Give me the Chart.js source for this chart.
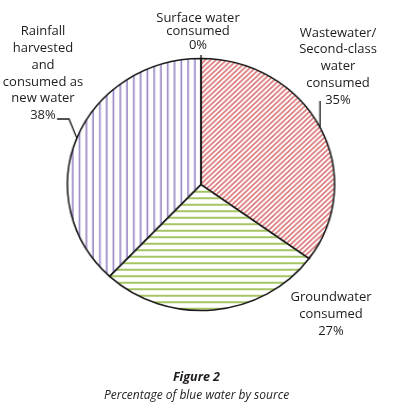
<!DOCTYPE html>
<html>
<head>
<meta charset="utf-8">
<script src="https://cdn.jsdelivr.net/npm/chart.js@4.4.0/dist/chart.umd.min.js"></script>
<style>
  html, body { margin: 0; padding: 0; background: #fff; }
  #page { position: relative; width: 393px; height: 402px; overflow: hidden; font-family: "Open Sans", sans-serif; color: #1f1b1c; }
  #pie { position: absolute; left: 0; top: 0; transform: scaleX(1.06); transform-origin: 201px 0; }
  .lbl { position: absolute; text-align: center; font-size: 13px; white-space: nowrap; transform: translateX(-50%); }
  .cap { position: absolute; left: 0; width: 393px; text-align: center; font-style: italic; white-space: nowrap; }
</style>
</head>
<body>
<div id="page">
  <canvas id="pie" width="393" height="402"></canvas>
</div>
<script>
// data
const sources = [
  "Surface water consumed",
  "Wastewater/Second-class water consumed",
  "Groundwater consumed",
  "Rainfall harvested and consumed as new water"
];
const labelLines = [
  ["Surface water", "consumed"],
  ["Wastewater/", "Second-class", "water", "consumed"],
  ["Groundwater", "consumed"],
  ["Rainfall", "harvested", "and", "consumed as", "new water"]
];
const shares = [0, 35, 27, 38];
const figureTitle = "Figure 2";
const figureCaption = "Percentage of blue water by source";

// layout (page px)
const labelBoxes = [
  { x: 198, top: 10.5, lh: 13.5 },
  { x: 338, top: 23.6, lh: 16.75 },
  { x: 331, top: 288.3, lh: 16.65 },
  { x: 43, top: 22.4, lh: 16.7 }
];
const leaderPaths = [
  [[null, 55]],
  [[null, 101]],
  [],
  [[69, 119], [57, 119]]
];
const stretch = 1.06, originX = 201;
const toCanvasX = (px) => originX + (px - originX) / stretch;

// hatch fills
function hatch(kind, color) {
  const c = document.createElement("canvas");
  const g = c.getContext("2d");
  if (kind === "vertical") {
    c.width = 32; c.height = 4;
    g.strokeStyle = color; g.lineWidth = 1.6;
    for (let i = 0; i < 5; i++) {
      g.beginPath(); g.moveTo(3.2 + 6.4 * i, 0); g.lineTo(3.2 + 6.4 * i, 4); g.stroke();
    }
  } else if (kind === "horizontal") {
    c.width = 4; c.height = 26;
    g.strokeStyle = color; g.lineWidth = 2;
    for (let i = 0; i < 4; i++) {
      g.beginPath(); g.moveTo(0, 3.25 + 6.5 * i); g.lineTo(4, 3.25 + 6.5 * i); g.stroke();
    }
  } else {
    c.width = 5; c.height = 5;
    g.strokeStyle = color; g.lineWidth = 1.6;
    g.beginPath();
    g.moveTo(0, 5); g.lineTo(5, 0);
    g.moveTo(-1, 1); g.lineTo(1, -1);
    g.moveTo(4, 6); g.lineTo(6, 4);
    g.stroke();
  }
  return g.createPattern(c, "repeat");
}

const fills = [
  "#ffffff",
  hatch("diagonal", "#db7a7b"),
  hatch("horizontal", "#a6c463"),
  hatch("vertical", "#9a89c6")
];

const leaderPlugin = {
  id: "leaders",
  afterDatasetsDraw(chart) {
    const ctx = chart.ctx;
    const meta = chart.getDatasetMeta(0);
    ctx.save();
    ctx.strokeStyle = "#1a1a1a";
    ctx.lineWidth = 1.3;
    meta.data.forEach((arc, i) => {
      const path = leaderPaths[i];
      if (!path.length) return;
      const p = arc.getProps(["x", "y", "startAngle", "endAngle", "outerRadius"], true);
      const a = (p.startAngle + p.endAngle) / 2;
      const sx = p.x + Math.cos(a) * p.outerRadius;
      const sy = p.y + Math.sin(a) * p.outerRadius;
      ctx.beginPath();
      ctx.moveTo(sx, sy);
      path.forEach(pt => ctx.lineTo(pt[0] === null ? sx : toCanvasX(pt[0]), pt[1]));
      ctx.stroke();
    });
    ctx.restore();
  }
};

new Chart(document.getElementById("pie"), {
  type: "pie",
  data: {
    labels: sources,
    datasets: [{
      data: shares,
      backgroundColor: fills,
      borderColor: "#1a1a1a",
      borderWidth: 1.5,
      borderJoinStyle: "miter"
    }]
  },
  options: {
    responsive: false,
    devicePixelRatio: 1,
    animation: false,
    events: [],
    layout: { padding: { top: 57.75, bottom: 90.75, left: 74.25, right: 65.25 } },
    plugins: { legend: { display: false }, tooltip: { enabled: false } }
  },
  plugins: [leaderPlugin]
});

// labels
const page = document.getElementById("page");
labelLines.forEach((lines, i) => {
  const b = labelBoxes[i];
  const d = document.createElement("div");
  d.className = "lbl";
  d.style.left = b.x + "px";
  d.style.top = b.top + "px";
  d.style.lineHeight = b.lh + "px";
  d.innerHTML = lines.concat([shares[i] + "%"]).join("<br>");
  page.appendChild(d);
});

const t = document.createElement("div");
t.className = "cap";
t.style.top = "369px";
t.style.fontWeight = "bold";
t.style.fontSize = "12.5px";
t.style.lineHeight = "15px";
t.textContent = figureTitle;
page.appendChild(t);

const c = document.createElement("div");
c.className = "cap";
c.style.top = "386.5px";
c.style.fontSize = "12px";
c.style.lineHeight = "15px";
c.textContent = figureCaption;
page.appendChild(c);
</script>
</body>
</html>
